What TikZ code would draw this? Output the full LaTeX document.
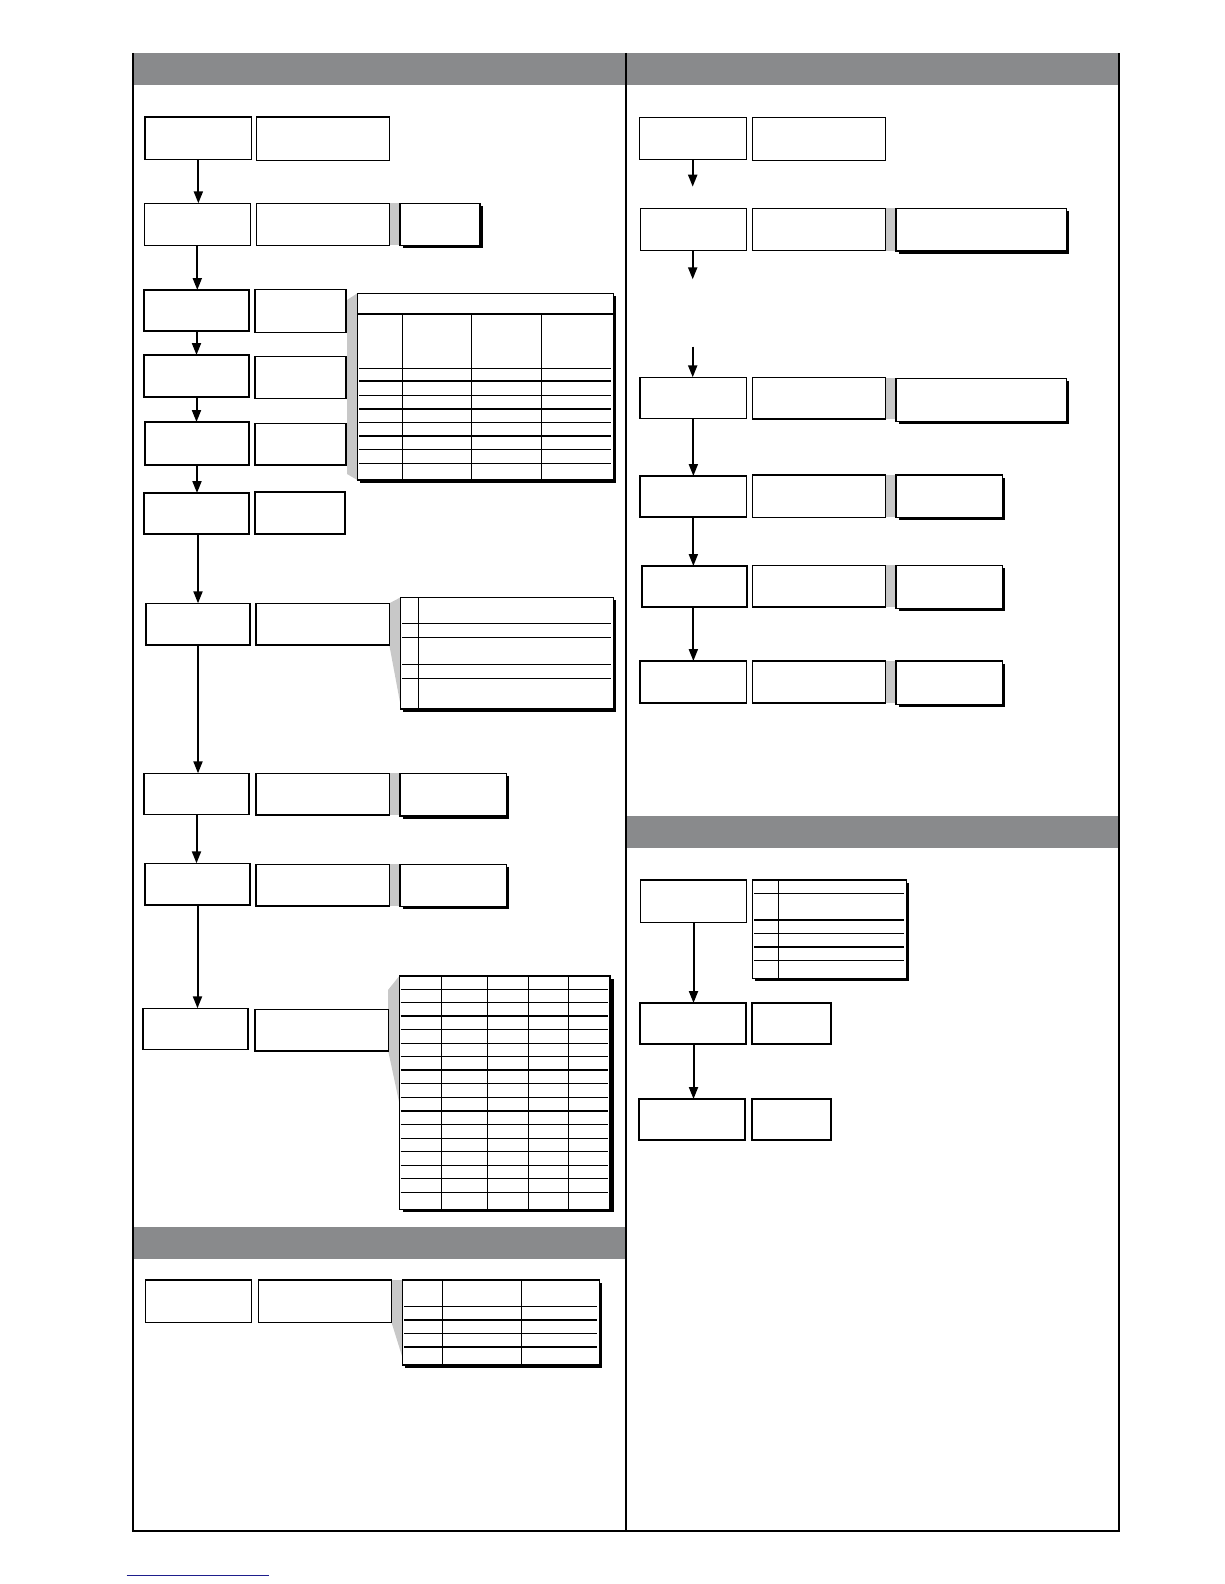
\documentclass[tikz,border=0pt]{standalone}
\usetikzlibrary{arrows.meta,shadows}
\definecolor{hdr}{RGB}{137,138,140}
\definecolor{callout}{RGB}{200,200,200}
\definecolor{navy}{RGB}{30,30,140}
\tikzset{
  bx/.style={draw=black,line width=1.2pt,fill=white,inner sep=0pt,outer sep=0pt},
  shad/.style={drop shadow={shadow xshift=2.5pt,shadow yshift=-2.5pt,fill=black,opacity=1}},
  flowarrow/.style={line width=2pt,-{Triangle[length=12pt,width=9pt]}},
  frameline/.style={line width=2pt},
  rule/.style={line width=1.2pt},
  header/.style={fill=hdr,draw=none},
  wedge/.style={fill=callout,draw=none}
}
\newcommand\bx[6][]{\node[bx,#1,anchor=north west,minimum width={#4-#2},minimum height={#5-#3}] (#6) at (#2,#3) {};}
\begin{document}
\begin{tikzpicture}[x=1pt,y=-1pt]
\useasboundingbox (0,0) rectangle (1224,1584);
% headers
\fill[header] (133,53) rectangle (1119,85);
\fill[header] (133,1227) rectangle (626,1259);
\fill[header] (626,816) rectangle (1119,848);
% frame
\draw[frameline] (133,53) -- (133,1531) -- (1119,1531) -- (1119,53);
\draw[frameline] (626,53) -- (626,1531);
% callout wedges (left column)
\fill[wedge] (389.3,203.3) rectangle (400,245.3);
\fill[wedge] (347,300) -- (357.3,293.3) -- (357.3,480) -- (347,474) -- cycle;
\fill[wedge] (389.3,603.3) -- (400.7,597.3) -- (400.7,706) -- (389.3,645) -- cycle;
\fill[wedge] (389.3,773.3) rectangle (400,815);
\fill[wedge] (389.3,864.3) rectangle (400,906);
\fill[wedge] (388,990) -- (399.3,976) -- (399.3,1103) -- (388,1050) -- cycle;
\fill[wedge] (391.7,1280) -- (402.3,1280) -- (402.3,1357) -- (391.7,1323) -- cycle;
% callout wedges (right column)
\fill[wedge] (885.7,208.3) rectangle (896,250.7);
\fill[wedge] (885.7,378) rectangle (896,419);
\fill[wedge] (885.7,475) rectangle (896,517.3);
\fill[wedge] (885.7,565.3) rectangle (896,607);
\fill[wedge] (885.7,661) rectangle (896,703);
% left column boxes
\bx{145}{117}{251.7}{159.3}{a1}
\bx{256.3}{117}{389.3}{160.3}{a1b}
\bx{144.3}{203.3}{250.3}{245.3}{a2}
\bx{256.3}{203.3}{389.3}{245.3}{a2b}
\bx[shad]{400}{203.3}{480}{245.3}{a2c}
\bx{144}{290}{249}{331}{a3}
\bx{255}{289.3}{346}{332.3}{a3b}
\bx{144}{355}{249}{397}{a4}
\bx{255}{356.7}{346}{398.3}{a4b}
\bx{145}{422}{249}{465}{a5}
\bx{255}{423.3}{346}{465}{a5b}
\bx{144}{493}{249}{534}{a6}
\bx{255}{492}{345}{534}{a6b}
% table 1
\bx[shad]{357.3}{293.3}{613.3}{480}{t1}
\draw[line width=2pt] (357.3,314.3) -- (613.3,314.3);
\foreach \cx in {402.3,471.7,541.7} \draw[rule] (\cx,314.3) -- (\cx,480);
\foreach \ry in {368.3,381,395.3,409,422.3,436,449.3,463.3} \draw[rule] (359,\ry) -- (610.7,\ry);
\bx{146}{603.3}{250}{645}{a7}
\bx{256}{603.3}{389.3}{645}{a7b}
% table 2
\bx[shad]{400.7}{597.3}{613.3}{709}{t2}
\draw[rule] (418.3,597.3) -- (418.3,709);
\foreach \ry in {623.3,637.3,664.3,678.3} \draw[rule] (402,\ry) -- (611,\ry);
\bx{144}{773.3}{249}{814.3}{a8}
\bx{256}{773.3}{389.3}{815}{a8b}
\bx[shad]{400}{773.3}{506.7}{816}{a8c}
\bx{145}{863.3}{250}{905}{a9}
\bx{256}{864.3}{389.3}{906}{a9b}
\bx[shad]{400}{864.3}{506.7}{906.7}{a9c}
\bx{143}{1008.3}{248}{1049.3}{a10}
\bx{255}{1009.3}{388.3}{1051}{a10b}
% table 3
\bx[drop shadow={shadow xshift=4pt,shadow yshift=-3pt,fill=black,opacity=1}]{399.3}{976}{610}{1209.3}{t3}
\foreach \cx in {441.3,487.3,528.3,568.7} \draw[rule] (\cx,976) -- (\cx,1209.3);
\foreach \ry in {989.3,1002.3,1016,1029.3,1043.3,1056.7,1070,1083.3,1097.3,1111,1124.3,1138.3,1151.7,1165.3,1178.7,1192.3}
  \draw[rule] (400.7,\ry) -- (608,\ry);
% left arrows
\draw[flowarrow] (a1.south) -- (a1.south |- a2.north);
\draw[flowarrow] (a2.south) -- (a2.south |- a3.north);
\draw[flowarrow] (a3.south) -- (a3.south |- a4.north);
\draw[flowarrow] (a4.south) -- (a4.south |- a5.north);
\draw[flowarrow] (a5.south) -- (a5.south |- a6.north);
\draw[flowarrow] (a7.north |- a6.south) -- (a7.north);
\draw[flowarrow] (a7.south) -- (a7.south |- a8.north);
\draw[flowarrow] (a8.south) -- (a8.south |- a9.north);
\draw[flowarrow] (a9.south) -- (a9.south |- a10.north);
% lower left section
\bx{145.3}{1280}{251.7}{1322.3}{b1}
\bx{258.3}{1280}{391.7}{1322.3}{b1b}
\bx[shad]{402.3}{1280}{599.3}{1365}{t4}
\foreach \cx in {442.3,521.3} \draw[rule] (\cx,1280) -- (\cx,1365);
\foreach \ry in {1306.3,1320,1333.3,1347} \draw[rule] (404,\ry) -- (597,\ry);
% right column
\bx{639.3}{117.3}{746.7}{159.3}{c1}
\bx{752.3}{117.3}{885.7}{160.3}{c1b}
\bx{640.3}{208.3}{746.7}{250.7}{c2}
\bx{752.3}{208.3}{885.7}{250.7}{c2b}
\bx[shad]{896}{208.3}{1066.7}{251}{c2c}
\bx{640}{377.3}{746.7}{418.7}{c3}
\bx{752.3}{377.3}{885.7}{419}{c3b}
\bx[shad]{896}{378.5}{1066.7}{421.3}{c3c}
\bx{640}{476}{746.7}{517}{c4}
\bx{752.3}{475}{885.7}{517.3}{c4b}
\bx[shad]{896}{475}{1002.7}{517.3}{c4c}
\bx{642}{566}{747}{607}{c5}
\bx{752.3}{565.3}{885.7}{607}{c5b}
\bx[shad]{896}{565.3}{1002.7}{608.3}{c5c}
\bx{640}{661}{746.7}{703}{c6}
\bx{752.3}{661}{885.7}{703}{c6b}
\bx[shad]{896}{661}{1002.7}{704.3}{c6c}
\coordinate (c1end) at (692.7,186.7);
\coordinate (c2end) at (692.7,279.3);
\coordinate (c3start) at (692.7,346.7);
\draw[flowarrow] (c1.south -| c1end) -- (c1end);
\draw[flowarrow] (c2.south -| c2end) -- (c2end);
\draw[flowarrow] (c3start) -- (c3start |- c3.north);
\draw[flowarrow] (c3.south) -- (c3.south |- c4.north);
\draw[flowarrow] (c4.south) -- (c4.south |- c5.north);
\draw[flowarrow] (c4.south |- c5.south) -- (c4.south |- c6.north);
% lower right section
\bx{640.3}{880}{746.7}{922.3}{d1}
\bx[shad]{752.3}{880}{906.7}{978.3}{t5}
\draw[rule] (778.3,880) -- (778.3,978.3);
\foreach \ry in {893.3,920,933.3,947,960.3} \draw[rule] (754,\ry) -- (904,\ry);
\bx{640}{1003}{746}{1044}{d2}
\bx{752}{1003}{831}{1044}{d2b}
\bx{639}{1099}{745}{1140}{d3}
\bx{752}{1099}{831}{1140}{d3b}
\draw[flowarrow] (d1.south) -- (d1.south |- d2.north);
\draw[flowarrow] (d1.south |- d2.south) -- (d1.south |- d3.north);
% bottom link line
\coordinate (linkL) at (126.7,1575);
\coordinate (linkR) at (269,1575);
\draw[navy,line width=1pt] (linkL) -- (linkR);
\end{tikzpicture}
\end{document}
